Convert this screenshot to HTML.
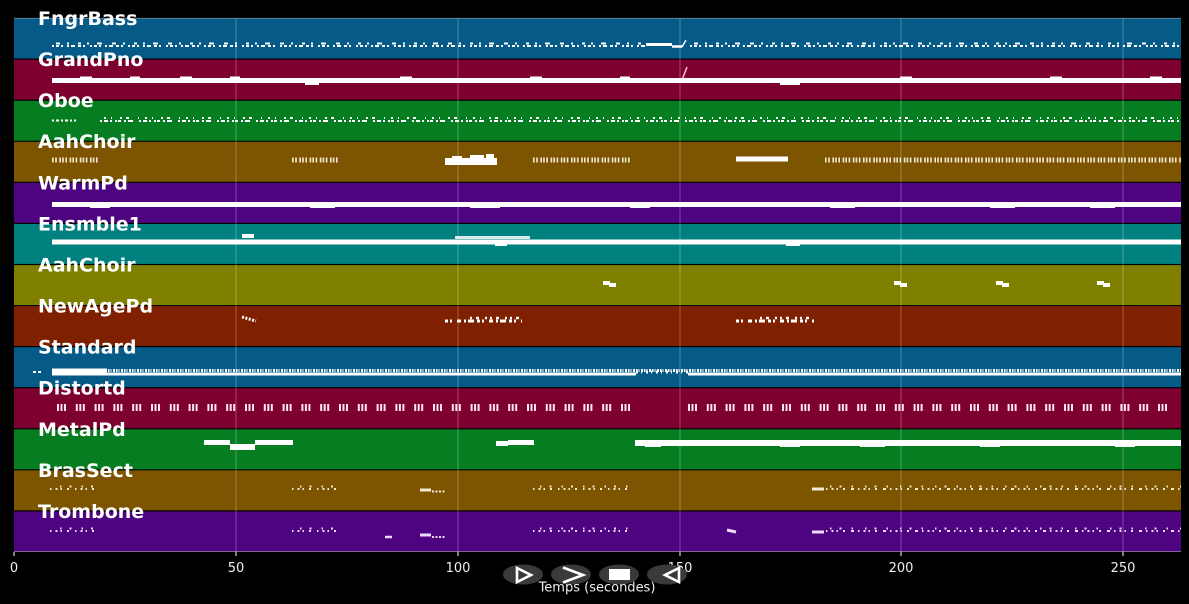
<!DOCTYPE html>
<html><head><meta charset="utf-8"><style>
html,body{margin:0;padding:0;background:#000;}
svg{display:block;}
.lbl{font-family:"DejaVu Sans","Liberation Sans",sans-serif;font-weight:bold;font-size:19px;fill:#fff;}
.tk{font-family:"DejaVu Sans","Liberation Sans",sans-serif;font-size:13px;fill:#eee;}
</style></head><body>
<svg width="1189" height="604" viewBox="0 0 1189 604" xmlns="http://www.w3.org/2000/svg">
<rect x="0" y="0" width="1189" height="604" fill="#000"/>
<!-- bands -->
<g>
<rect x="14" y="18.6" width="1167" height="39.9" fill="#055a87"/>
<rect x="14" y="59.7" width="1167" height="39.9" fill="#7e002e"/>
<rect x="14" y="100.8" width="1167" height="39.9" fill="#077d22"/>
<rect x="14" y="141.8" width="1167" height="39.9" fill="#7d5500"/>
<rect x="14" y="182.9" width="1167" height="39.9" fill="#4e0481"/>
<rect x="14" y="224.0" width="1167" height="39.9" fill="#018080"/>
<rect x="14" y="265.1" width="1167" height="39.9" fill="#808000"/>
<rect x="14" y="306.1" width="1167" height="39.9" fill="#7f2000"/>
<rect x="14" y="347.2" width="1167" height="39.9" fill="#055a87"/>
<rect x="14" y="388.3" width="1167" height="39.9" fill="#7e002e"/>
<rect x="14" y="429.4" width="1167" height="39.9" fill="#077d22"/>
<rect x="14" y="470.4" width="1167" height="39.9" fill="#7d5500"/>
<rect x="14" y="511.5" width="1167" height="39.9" fill="#4e0481"/>
</g>
<line x1="14" y1="18.3" x2="1181" y2="18.3" stroke="#6a8fa8" stroke-width="0.8"/>
<line x1="14" y1="551.5" x2="1181" y2="551.5" stroke="#9a88b0" stroke-width="0.8"/>
<!-- grid -->
<g stroke="#ffffff" stroke-opacity="0.28" stroke-width="1">
<line x1="236" y1="18" x2="236" y2="552"/>
<line x1="458" y1="18" x2="458" y2="552"/>
<line x1="680" y1="18" x2="680" y2="552"/>
<line x1="901" y1="18" x2="901" y2="552"/>
<line x1="1123" y1="18" x2="1123" y2="552"/>
</g>

<!-- notes -->
<g stroke="#fff" fill="none">
<!-- FngrBass -->
<line x1="52" y1="46" x2="646" y2="46" stroke-width="2" stroke-dasharray="2 2 3 2 2 4 2 2 4 3 3 2 2 5"/>
<line x1="56" y1="43.5" x2="646" y2="43.5" stroke-width="2" stroke-dasharray="4 7 2 9 3 6 2 8 5 10"/>
<line x1="690" y1="46" x2="1181" y2="46" stroke-width="2" stroke-dasharray="2 2 3 2 2 4 2 2 4 3 3 2 2 5"/>
<line x1="694" y1="43.5" x2="1181" y2="43.5" stroke-width="2" stroke-dasharray="4 7 2 9 3 6 2 8 5 10"/>
<line x1="646" y1="44.5" x2="672" y2="44.5" stroke-width="3"/>
<line x1="672" y1="46.5" x2="682" y2="46.5" stroke-width="2.5"/>
<line x1="682" y1="47" x2="686" y2="40" stroke-width="1.5"/>
<!-- GrandPno -->
<line x1="682" y1="80" x2="687" y2="67" stroke="#ffb6cc" stroke-width="1.6"/>
<!-- Oboe -->
<line x1="52" y1="120.5" x2="76" y2="120.5" stroke-width="2" stroke-dasharray="2 2 3 2"/>
<line x1="100" y1="121" x2="1181" y2="121" stroke-width="2" stroke-dasharray="2 2 4 2 2 3 2 1 3 3 2 2 5 6"/>
<line x1="104" y1="118" x2="1181" y2="118" stroke-width="2" stroke-dasharray="2 5 1 8 2 4 3 9 1 6"/>
<!-- AahChoir ticks -->
<g stroke="#f2ead6" stroke-width="5" stroke-dasharray="1.6 1.6 1.6 2.6 1.6 1.2">
<line x1="52" y1="160" x2="100" y2="160"/>
<line x1="292" y1="160" x2="340" y2="160"/>
<line x1="533" y1="160" x2="632" y2="160"/>
<line x1="825" y1="160" x2="1181" y2="160"/>
</g>
<!-- NewAgePd -->
<line x1="242" y1="317" x2="256" y2="321" stroke-width="3" stroke-dasharray="2 1.5"/>
<line x1="445" y1="321" x2="522" y2="321" stroke-width="3" stroke-dasharray="3 2 2 5 4 3 2 2 6 3"/>
<line x1="470" y1="318" x2="522" y2="318" stroke-width="2.5" stroke-dasharray="2 4 3 6 2 3"/>
<line x1="736" y1="321" x2="814" y2="321" stroke-width="3" stroke-dasharray="3 2 2 5 4 3 2 2 6 3"/>
<line x1="760" y1="318" x2="814" y2="318" stroke-width="2.5" stroke-dasharray="2 4 3 6 2 3"/>
<!-- Standard -->
<line x1="52" y1="374" x2="636" y2="374" stroke-width="3"/>
<line x1="688" y1="374" x2="1181" y2="374" stroke-width="3"/>
<line x1="52" y1="370.5" x2="1181" y2="370.5" stroke-width="3" stroke-dasharray="1.5 1 1 1.5 2 1"/>
<line x1="636" y1="372" x2="688" y2="372" stroke-width="3" stroke-dasharray="2 3 1 4"/>
<line x1="33" y1="372" x2="42" y2="372" stroke-width="2" stroke-dasharray="3 2"/>
<line x1="52" y1="372" x2="107" y2="372" stroke-width="7"/>
<!-- Distortd -->
<g stroke="#ffe6ee" stroke-width="7" stroke-dasharray="2 1.5 2 1.5 2 9.8">
<line x1="57" y1="407.5" x2="636" y2="407.5"/>
<line x1="688" y1="407.5" x2="1174" y2="407.5"/>
</g>
<!-- BrasSect -->
<g stroke="#f2ead6" stroke-width="2">
<line x1="50" y1="489" x2="100" y2="489" stroke-dasharray="1.5 4 2 3 1.5 5 2 6"/>
<line x1="292" y1="489" x2="340" y2="489" stroke-dasharray="1.5 4 2 3 1.5 5 2 6"/>
<line x1="533" y1="489" x2="632" y2="489" stroke-dasharray="1.5 4 2 3 1.5 5 2 6"/>
<line x1="826" y1="489" x2="1181" y2="489" stroke-dasharray="1.5 4 2 3 1.5 5 2 6 3 4"/>
<line x1="52" y1="486" x2="1181" y2="486" stroke-dasharray="2 9 1 14 2 11" stroke-opacity="0"/>
<line x1="60" y1="486.5" x2="100" y2="486.5" stroke-dasharray="1.5 8 2 10"/>
<line x1="300" y1="486.5" x2="340" y2="486.5" stroke-dasharray="1.5 8 2 10"/>
<line x1="540" y1="486.5" x2="632" y2="486.5" stroke-dasharray="1.5 8 2 10"/>
<line x1="830" y1="486.5" x2="1181" y2="486.5" stroke-dasharray="1.5 8 2 10 1.5 12"/>
<line x1="420" y1="490" x2="431" y2="490" stroke-width="3"/>
<line x1="432" y1="491.5" x2="445" y2="491.5" stroke-dasharray="2 1.5"/>
<line x1="812" y1="489" x2="824" y2="489" stroke-width="3"/>
</g>
<!-- Trombone -->
<g stroke="#f0d8f8" stroke-width="2">
<line x1="50" y1="531" x2="100" y2="531" stroke-dasharray="1.5 4 2 3 1.5 5 2 6"/>
<line x1="292" y1="531" x2="340" y2="531" stroke-dasharray="1.5 4 2 3 1.5 5 2 6"/>
<line x1="533" y1="531" x2="632" y2="531" stroke-dasharray="1.5 4 2 3 1.5 5 2 6"/>
<line x1="826" y1="531" x2="1181" y2="531" stroke-dasharray="1.5 4 2 3 1.5 5 2 6 3 4"/>
<line x1="60" y1="528.5" x2="100" y2="528.5" stroke-dasharray="1.5 8 2 10"/>
<line x1="300" y1="528.5" x2="340" y2="528.5" stroke-dasharray="1.5 8 2 10"/>
<line x1="540" y1="528.5" x2="632" y2="528.5" stroke-dasharray="1.5 8 2 10"/>
<line x1="830" y1="528.5" x2="1181" y2="528.5" stroke-dasharray="1.5 8 2 10 1.5 12"/>
<line x1="385" y1="537" x2="392" y2="537" stroke-width="2.5"/>
<line x1="420" y1="535" x2="431" y2="535" stroke-width="3"/>
<line x1="432" y1="537" x2="445" y2="537" stroke-dasharray="2 1.5"/>
<line x1="727" y1="530" x2="736" y2="532" stroke-width="3"/>
<line x1="812" y1="532" x2="824" y2="532" stroke-width="3"/>
</g>
</g>

<g fill="#fff">
<!-- GrandPno -->
<rect x="52" y="78" width="1129" height="5"/>
<rect x="80" y="76.5" width="12" height="3"/>
<rect x="130" y="76.5" width="10" height="3"/>
<rect x="180" y="76.5" width="12" height="3"/>
<rect x="230" y="76.5" width="10" height="3"/>
<rect x="305" y="81" width="14" height="4"/>
<rect x="400" y="76.5" width="12" height="3"/>
<rect x="530" y="76.5" width="12" height="3"/>
<rect x="620" y="76.5" width="10" height="3"/>
<rect x="780" y="81" width="20" height="4"/>
<rect x="900" y="76.5" width="12" height="3"/>
<rect x="1050" y="76.5" width="12" height="3"/>
<rect x="1150" y="76.5" width="12" height="3"/>
<!-- AahChoir blobs -->
<rect x="445" y="158" width="52" height="7"/>
<rect x="452" y="156" width="10" height="3"/>
<rect x="470" y="155" width="14" height="4"/>
<rect x="486" y="154" width="8" height="4"/>
<rect x="736" y="156.5" width="52" height="5"/>
<!-- WarmPd -->
<rect x="52" y="202" width="1129" height="5"/>
<rect x="90" y="206" width="20" height="2"/>
<rect x="310" y="206" width="25" height="2"/>
<rect x="470" y="206" width="30" height="2"/>
<rect x="630" y="206" width="20" height="2"/>
<rect x="830" y="206" width="25" height="2"/>
<rect x="990" y="206" width="25" height="2"/>
<rect x="1090" y="206" width="25" height="2"/>
<!-- Ensmble1 -->
<rect x="52" y="239.5" width="1129" height="5"/>
<rect x="495" y="243" width="12" height="3"/>
<rect x="786" y="243" width="14" height="3"/>
<rect x="455" y="236" width="75" height="3" opacity="0.85"/>
<rect x="242" y="234" width="12" height="4"/>
<!-- AahChoir2 -->
<rect x="603" y="281" width="7" height="4"/>
<rect x="609" y="283" width="7" height="4"/>
<rect x="894" y="281" width="7" height="4"/>
<rect x="900" y="283" width="7" height="4"/>
<rect x="996" y="281" width="7" height="4"/>
<rect x="1002" y="283" width="7" height="4"/>
<rect x="1097" y="281" width="7" height="4"/>
<rect x="1103" y="283" width="7" height="4"/>
<!-- MetalPd -->
<rect x="204" y="440" width="26" height="5"/>
<rect x="230" y="444" width="25" height="6"/>
<rect x="255" y="440" width="38" height="5"/>
<rect x="496" y="441" width="12" height="5"/>
<rect x="508" y="440" width="26" height="5"/>
<rect x="635" y="440" width="546" height="6"/>
<rect x="645" y="444" width="16" height="3"/>
<rect x="780" y="444" width="20" height="3"/>
<rect x="860" y="444" width="25" height="3"/>
<rect x="980" y="444" width="20" height="3"/>
<rect x="1115" y="444" width="20" height="3"/>
</g>

<!-- labels -->
<text class="lbl" x="38" y="25">FngrBass</text>
<text class="lbl" x="38" y="66.1">GrandPno</text>
<text class="lbl" x="38" y="107.2">Oboe</text>
<text class="lbl" x="38" y="148.2">AahChoir</text>
<text class="lbl" x="38" y="189.3">WarmPd</text>
<text class="lbl" x="38" y="230.4">Ensmble1</text>
<text class="lbl" x="38" y="271.5">AahChoir</text>
<text class="lbl" x="38" y="312.5">NewAgePd</text>
<text class="lbl" x="38" y="353.6">Standard</text>
<text class="lbl" x="38" y="394.7">Distortd</text>
<text class="lbl" x="38" y="435.8">MetalPd</text>
<text class="lbl" x="38" y="476.8">BrasSect</text>
<text class="lbl" x="38" y="517.9">Trombone</text>

<!-- x ticks -->
<g stroke="#fff" stroke-width="1">
<line x1="14" y1="552" x2="14" y2="556"/>
<line x1="236" y1="552" x2="236" y2="556"/>
<line x1="458" y1="552" x2="458" y2="556"/>
<line x1="680" y1="552" x2="680" y2="556"/>
<line x1="901" y1="552" x2="901" y2="556"/>
<line x1="1123" y1="552" x2="1123" y2="556"/>
</g>
<g class="tk" text-anchor="middle">
<text x="14" y="572">0</text>
<text x="236" y="572">50</text>
<text x="458" y="572">100</text>
<text x="680" y="572">150</text>
<text x="901" y="572">200</text>
<text x="1123" y="572">250</text>
</g>

<!-- buttons -->
<g fill="#3a3a3a">
<ellipse cx="523" cy="574.5" rx="20" ry="10"/>
<ellipse cx="571" cy="574.5" rx="20" ry="10"/>
<ellipse cx="619" cy="574.5" rx="20" ry="10"/>
<ellipse cx="667" cy="574.5" rx="20" ry="10"/>
</g>
<text class="tk" x="597" y="591.5" text-anchor="middle">Temps (secondes)</text>
<g stroke="#fff" fill="none" stroke-width="2.6" stroke-linejoin="miter">
<polygon points="517,568 531,575 517,582"/>
<polyline points="563,567.5 583,575 563,582.5"/>
<polygon points="679,568 665,575 679,582"/>
</g>
<rect x="609" y="569" width="21" height="11" fill="#fff"/>
</svg>
</body></html>
